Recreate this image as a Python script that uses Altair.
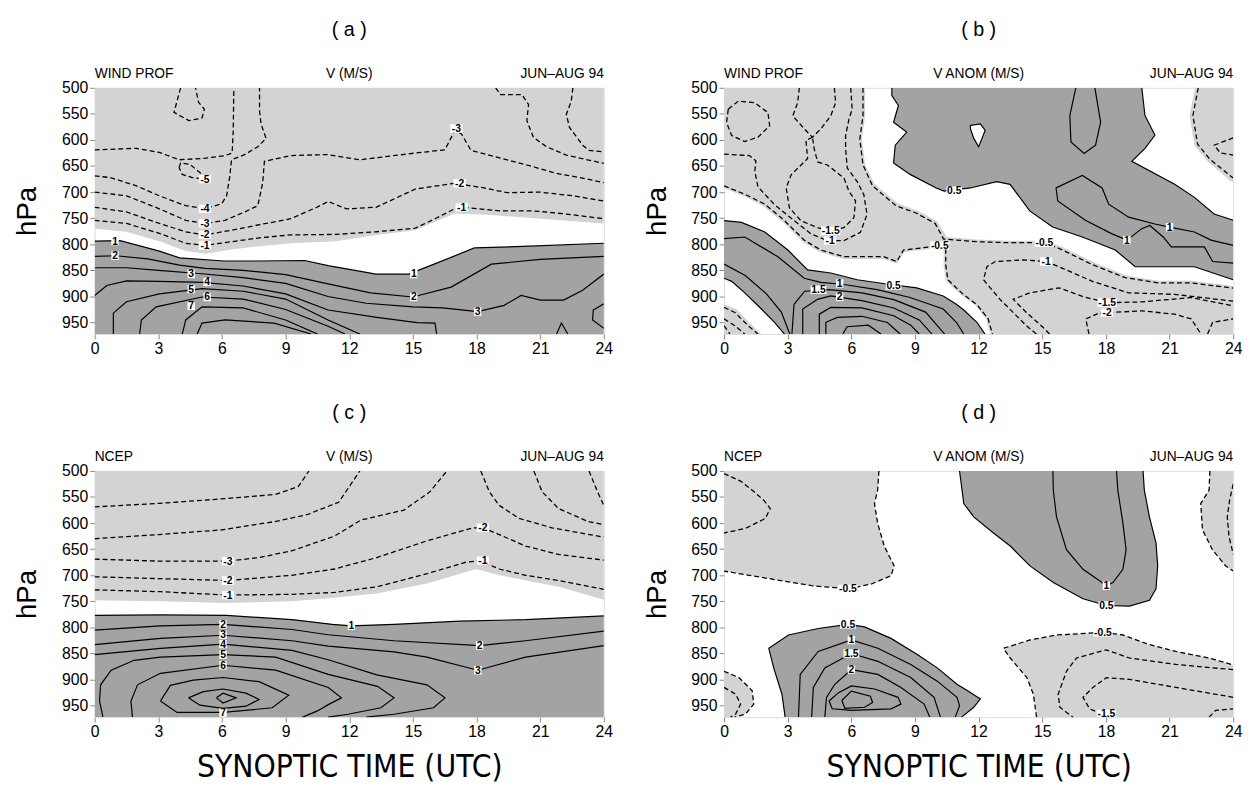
import altair as alt
import pandas as pd

P_TOP, P_BOT = 500, 972
W, H = 517, 250
LIGHT = "#d3d3d3"
DARK = "#a3a3a3"
FONT = "Liberation Sans"
NARROW = "Liberation Sans Narrow, DejaVu Sans Condensed, Liberation Sans"

TIME_TICKS = [0, 3, 6, 9, 12, 15, 18, 21, 24]
P_TICKS = [500, 550, 600, 650, 700, 750, 800, 850, 900, 950]

# ---------------- panel (a): wind profiler, V ----------------
A_HEAD = ["WIND PROF", "V (M/S)", "JUN\u2013AUG 94"]
# shaded bands: (time, top pressure, bottom pressure)
A_LIGHT_BANDS = [[(0, 500, 770), (1.5, 500, 776), (3.05, 500, 794), (4.29, 500, 813), (5.21, 500, 818),
                  (6.45, 500, 810), (7.69, 500, 804), (9.24, 500, 798), (11.4, 500, 794), (13.26, 500, 782),
                  (15.12, 500, 773), (16.04, 500, 757), (16.97, 500, 741), (18.67, 500, 744), (24, 500, 760)]]
A_DARK_BANDS = [[(0, 794, 972), (1.2, 793, 972), (3.05, 813, 972), (4.0, 826, 972), (6.1, 832, 972),
                 (7.7, 832, 972), (9.9, 831, 972), (11.0, 841, 972), (13.26, 857, 972), (14.8, 857, 972),
                 (16.0, 838, 972), (17.9, 807, 972), (20.2, 804, 972), (24, 798, 972)]]
A_DASHED = [
    [(4.05, 500), (3.74, 547), (4.44, 563), (5.06, 558), (5.17, 541), (4.9, 528), (4.75, 500)],
    [(0, 619), (1.97, 616), (3.05, 624), (3.98, 638), (5.21, 635), (6.14, 630), (6.48, 625), (6.53, 582), (6.56, 500)],
    [(3.98, 653), (4.05, 644), (4.5, 647), (5.06, 666), (5.2, 675), (4.6, 672), (4.13, 666), (3.98, 653)],
    [(0, 669), (0.73, 672), (1.97, 688), (3.05, 707), (4.29, 726), (5.21, 732), (5.99, 722), (6.22, 707),
     (6.37, 669), (6.45, 638), (7.07, 628), (7.69, 613), (8.08, 597), (7.84, 569), (7.77, 544), (7.77, 500)],
    [(0, 700), (1.5, 707), (3.05, 732), (4.29, 754), (5.21, 760), (6.14, 754), (7.07, 738), (7.69, 726),
     (7.92, 682), (8.0, 641), (9.24, 630), (10.94, 628), (12.49, 638), (15.12, 625), (16.51, 619),
     (16.97, 582), (17.28, 588), (17.74, 620), (19.13, 635), (20.37, 648), (21.76, 664), (23.0, 673), (24, 682)],
    [(0, 729), (1.5, 738), (3.05, 760), (4.29, 776), (5.21, 782), (6.45, 773), (7.69, 763), (9.24, 751),
     (10.47, 729), (11.0, 718), (11.87, 732), (13.26, 729), (15.12, 694), (16.97, 683), (18.36, 692),
     (19.44, 701), (20.99, 700), (22.54, 707), (24, 717)],
    [(0, 754), (1.5, 760), (3.05, 779), (4.29, 798), (5.21, 802), (6.45, 795), (7.69, 788), (9.24, 782),
     (11.4, 781), (13.26, 776), (15.12, 769), (16.04, 751), (16.97, 732), (17.28, 729), (19.13, 736),
     (20.68, 736), (22.23, 742), (24, 751)],
    [(18.9, 500), (19.13, 513), (20.14, 513), (20.45, 532), (20.37, 563), (20.68, 595), (21.3, 613),
     (22.23, 629), (24, 645)],
    [(22.54, 500), (22.46, 526), (22.23, 551), (22.38, 576), (23.0, 610), (23.3, 620), (24, 623)],
]
A_SOLID = [
    [(0, 794), (1.2, 793), (3.05, 813), (4.0, 826), (6.1, 832), (7.7, 832), (9.9, 831), (11.0, 841),
     (13.26, 857), (14.8, 857), (16.0, 838), (17.9, 807), (20.2, 804), (24, 798)],
    [(0, 823), (1, 822), (2.5, 828), (4, 840), (5.2, 846), (7, 850), (9, 858), (11, 876), (13, 893),
     (15, 901), (16.8, 882), (18.7, 838), (21, 829), (24, 823)],
    [(0, 845), (1.5, 845), (3, 850), (5.2, 857), (7, 864), (9, 875), (11, 900), (12.8, 913), (15, 920),
     (16.4, 922), (18.05, 929), (19.3, 917), (20.1, 898), (21.0, 907), (22.1, 907), (23.0, 888), (24, 857)],
    [(0, 898), (0.57, 879), (1.5, 870), (3.05, 871), (5.06, 873), (7, 880), (9, 895), (11, 926),
     (13.3, 940), (15.2, 950), (16.04, 951), (16.12, 972)],
    [(24, 914), (23.5, 926), (23.47, 945), (24, 961)],
    [(21.77, 972), (22.0, 951), (22.3, 972)],
    [(0.88, 972), (0.88, 932), (1.5, 910), (3.05, 895), (5.06, 885), (7, 890), (9, 905), (11, 945), (12.5, 972)],
    [(2.12, 972), (2.2, 945), (2.9, 920), (5.06, 901), (7, 905), (9, 925), (11, 957), (11.8, 972)],
    [(4.13, 972), (4.29, 945), (5.06, 920), (7, 922), (9, 945), (10.5, 972)],
    [(4.83, 972), (5.06, 951), (6.14, 945), (8.46, 951), (10.2, 972)],
]
A_LABELS = [(0.96, 794, "1"), (0.96, 822, "2"), (4.55, 857, "3"), (5.3, 872, "4"), (4.55, 886, "5"),
            (5.3, 901, "6"), (4.55, 918, "7"), (15.04, 857, "1"), (15.04, 901, "2"), (18.05, 929, "3"),
            (5.2, 675, "-5"), (5.2, 732, "-4"), (5.2, 760, "-3"), (5.2, 782, "-2"), (5.2, 802, "-1"),
            (17.05, 578, "-3"), (17.2, 683, "-2"), (17.3, 729, "-1")]

# ---------------- panel (b): wind profiler, V anomaly ----------------
B_HEAD = ["WIND PROF", "V ANOM (M/S)", "JUN\u2013AUG 94"]
B_LIGHT = [
    [(0, 500), (6.65, 500), (6.65, 554), (6.5, 598), (6.65, 648), (7.1, 685), (8.2, 722), (9.15, 736),
     (10.05, 756), (10.5, 786), (11.92, 791), (13.48, 793), (15.1, 793), (15.9, 804), (17.45, 835),
     (18.95, 860), (20.46, 870), (22.02, 870), (24, 880), (24, 972), (12.55, 972), (12.35, 943), (11.85, 917),
     (11.15, 896), (10.45, 870), (10.35, 840), (10.35, 810), (10.17, 806), (9.7, 809), (8.5, 815), (8.14, 837),
     (7.52, 828), (5.65, 828), (4.5, 815), (3.7, 795), (2.8, 758), (1.85, 727), (0.95, 708), (0, 692)],
    [(22.2, 500), (21.94, 553), (22.17, 610), (22.79, 641), (23.88, 679), (24, 680), (24, 500)],
    [(0, 915), (0.6, 925), (1.2, 950), (1.75, 972), (0, 972)],
]
B_DARK = [
    [(7.91, 500), (7.91, 515), (8.22, 534), (7.99, 566), (8.61, 585), (8.07, 610), (7.99, 644), (8.77, 666),
     (10.0, 692), (10.37, 698), (11.61, 692), (12.85, 680), (13.48, 685), (14.41, 736), (15.49, 767),
     (16.89, 786), (18.44, 811), (19.38, 843), (20.93, 843), (22.17, 843), (24, 868), (24, 754), (23.1, 742),
     (22.17, 710), (21.24, 685), (19.22, 641), (19.84, 616), (20.31, 591), (19.84, 553), (19.69, 500)],
    [(0, 754.5), (0.82, 758), (1.92, 776.5), (3.01, 811), (3.94, 849), (5.03, 855), (6.28, 868), (7.83, 877),
     (9.08, 883.5), (10.33, 899), (10.95, 915), (11.3, 926), (11.92, 949.5), (12.3, 972), (2.85, 972),
     (2.38, 949.5), (1.76, 924), (0.98, 893), (0.36, 871), (0, 865)],
]
B_HOLES = [[(11.61, 572), (12.08, 569), (12.31, 581.5), (12.16, 597), (12.0, 613), (11.77, 597), (11.61, 578),
            (11.61, 572)]]
B_DASHED = [
    [(0.2, 541), (0.67, 525.5), (1.45, 528.6), (2.07, 547.5), (2.15, 572.7), (1.6, 594.7), (0.98, 603),
     (0.36, 591.5), (0.12, 566.4), (0.2, 541)],
    [(3.55, 500), (3.47, 528.6), (3.24, 553.8), (3.79, 579), (4.17, 594.7)],
    [(5.2, 500), (5.26, 528.6), (5.03, 553.8), (4.56, 579), (4.17, 594.7)],
    [(4.17, 594.7), (3.86, 601), (3.94, 635.6), (3.16, 667), (2.93, 692), (3.08, 730), (3.63, 755), (4.41, 768),
     (5.03, 774), (5.65, 768), (6.12, 749), (6.2, 717), (5.89, 698.5), (5.65, 673), (4.87, 648), (4.41, 642),
     (4.25, 617), (4.17, 594.7)],
    [(5.97, 500), (6.04, 541), (5.89, 560), (5.73, 591.5), (5.73, 617), (5.81, 654), (6.28, 680), (6.59, 705),
     (6.74, 742.5), (6.43, 777), (5.65, 793), (4.87, 793), (4.1, 780), (3.32, 755), (2.38, 724), (1.6, 690),
     (1.45, 660), (1.5, 640), (1.2, 630), (0, 627)],
    [(6.55, 500), (6.55, 554), (6.4, 598), (6.55, 648), (7.0, 688), (8.1, 726), (9.05, 740), (9.95, 760),
     (10.35, 790), (11.92, 795), (13.48, 797), (15.1, 797), (15.8, 808), (17.36, 839), (18.91, 864),
     (20.46, 874), (22.02, 874), (24, 884)],
    [(0, 688), (0.98, 704), (1.92, 723), (2.85, 754.5), (3.78, 792), (4.56, 811), (5.65, 823.7), (7.52, 823.7),
     (8.14, 833), (8.46, 811), (9.7, 805), (10.17, 802), (10.45, 808), (10.45, 840), (10.55, 868), (11.25, 895),
     (11.95, 917), (12.45, 943), (12.65, 972)],
    [(14.72, 972), (14.25, 956), (13.01, 905.5), (12.23, 868), (12.39, 843), (12.78, 833), (14.1, 830),
     (15.18, 833), (15.96, 846), (17.36, 871), (19.07, 893), (21.24, 896), (24, 909)],
    [(15.34, 972), (15.03, 959), (14.25, 930.6), (13.63, 905.5), (14.41, 893), (15.8, 883.5), (16.89, 900),
     (18.06, 912), (19.69, 910.5), (22.02, 902), (24, 918)],
    [(17.2, 972), (17.05, 943), (17.67, 932), (19.69, 927.5), (21.24, 934), (22.02, 943), (22.48, 972)],
    [(22.79, 972), (23.03, 949.5), (24, 943)],
    [(22.35, 500), (22.1, 553), (22.32, 608), (22.9, 637), (24, 673)],
    [(24, 596), (23.1, 610), (23.4, 625), (24, 629)],
    [(0, 921), (0.51, 930.6), (1.14, 956), (1.6, 972)],
    [(0, 943), (0.51, 956), (0.98, 972)],
    [(0, 956), (0.28, 972)],
]
B_SOLID = [
    [(7.91, 500), (7.91, 515), (8.22, 534), (7.99, 566), (8.61, 585), (8.07, 610), (7.99, 644), (8.77, 666),
     (10.0, 692), (10.37, 698), (11.61, 692), (12.85, 680), (13.48, 685), (14.41, 736), (15.49, 767),
     (16.89, 786), (18.44, 811), (19.38, 843), (20.93, 843), (22.17, 843), (24, 868)],
    [(24, 754), (23.1, 742), (22.17, 710), (21.24, 685), (19.22, 641), (19.84, 616), (20.31, 591),
     (19.84, 553), (19.69, 500)],
    [(11.61, 572), (12.08, 569), (12.31, 581.5), (12.16, 597), (12.0, 613), (11.77, 597), (11.61, 578), (11.61, 572)],
    [(16.58, 500), (16.3, 553), (16.35, 604), (16.97, 626), (17.51, 610), (17.75, 566), (17.48, 500)],
    [(24, 802), (22.95, 792), (22.17, 776.5), (21.0, 767), (20.31, 761), (19.07, 748), (18.13, 723),
     (17.82, 692), (16.89, 668), (15.65, 692), (15.73, 717), (17.05, 754.5), (18.29, 780), (18.99, 792),
     (19.69, 770), (20.07, 764), (20.7, 786), (21.08, 805), (22.64, 805), (23.03, 833), (24, 836)],
    [(0, 754.5), (0.82, 758), (1.92, 776.5), (3.01, 811), (3.94, 849), (5.03, 855), (6.28, 868), (7.83, 877),
     (9.08, 883.5), (10.33, 899), (10.95, 915), (11.3, 926), (11.92, 949.5), (12.3, 972)],
    [(0, 865), (0.36, 871), (0.98, 893), (1.76, 924), (2.38, 949.5), (2.85, 972)],
    [(0, 789), (0.98, 786), (2.54, 824), (3.78, 865), (4.56, 873), (5.65, 877), (7.21, 887), (8.77, 902),
     (10.33, 924), (10.95, 949.5), (11.3, 972)],
    [(0, 838), (1.0, 860), (2.0, 895), (2.7, 930), (3.1, 972)],
    [(3.2, 972), (3.3, 915), (3.8, 890), (4.95, 887), (6.5, 893), (8.0, 906), (9.5, 930), (10.4, 972)],
    [(3.71, 972), (3.71, 924), (4.41, 905.5), (5.03, 899), (6.5, 908), (8.0, 922), (9.2, 945), (9.8, 972)],
    [(4.49, 972), (4.49, 934), (5.03, 921), (6.5, 922), (8.0, 937), (8.8, 955), (9.2, 972)],
    [(4.8, 972), (4.8, 949.5), (5.34, 940), (6.5, 938), (7.7, 950), (8.3, 972)],
    [(5.6, 972), (5.8, 958), (6.8, 955), (7.4, 972)],
]
B_LABELS = [(5.03, 774, "-1.5"), (5.0, 793, "-1"), (10.17, 802, "-0.5"), (15.1, 797, "-0.5"),
            (15.18, 833, "-1"), (18.06, 912, "-1.5"), (18.06, 931, "-2"), (10.85, 697, "0.5"),
            (21.0, 767, "1"), (18.99, 792, "1"), (5.45, 875, "1"), (4.45, 887, "1.5"), (5.45, 901, "2"),
            (7.99, 879, "0.5")]

# ---------------- panel (c): NCEP, V ----------------
C_HEAD = ["NCEP", "V (M/S)", "JUN\u2013AUG 94"]
C_LIGHT_BANDS = [[(0, 500, 748), (3.1, 500, 750), (6.2, 500, 753), (9.3, 500, 750), (11.01, 500, 744),
                  (13.3, 500, 735), (15.66, 500, 716), (17.99, 500, 688), (19.07, 500, 700), (21.86, 500, 722),
                  (24, 500, 747)]]
C_DARK_BANDS = [[(0, 777, 972), (3.1, 776, 972), (6.2, 777, 972), (9.3, 785, 972), (11.2, 794, 972),
                 (12.1, 797, 972), (14.11, 794, 972), (17.21, 788, 972), (20.31, 785, 972), (24, 778, 972)]]
C_DASHED = [
    [(0, 728), (3.1, 731.5), (6.28, 738), (9.3, 736.5), (11.3, 733), (13.3, 722), (15.66, 697), (17.5, 675),
     (18.14, 672), (19.07, 688), (20.31, 700), (21.86, 710), (24, 727)],
    [(0, 703), (3.1, 706.5), (6.28, 710), (9.3, 700), (11.3, 688), (13.3, 666), (15.66, 634), (17.83, 609),
     (18.3, 609), (19.07, 622), (20.31, 644), (21.86, 660), (24, 671)],
    [(0, 669), (3.1, 673), (6.28, 673), (7.75, 666), (9.3, 653), (11.3, 625), (12.56, 594), (14.58, 575),
     (15.8, 540), (16.6, 500)],
    [(18.2, 500), (18.6, 540), (19.07, 566), (20.0, 591), (21.55, 609), (24, 627)],
    [(0, 630), (3, 622), (6, 613), (8.5, 597), (10, 584), (11.5, 560), (12.5, 500)],
    [(20.7, 500), (21.09, 540), (21.86, 572), (23.26, 597), (24, 603)],
    [(0, 569), (3.1, 562), (6.2, 553), (8.53, 545), (9.6, 530), (10.1, 500)],
    [(23.3, 500), (23.7, 540), (24, 566)],
]
C_SOLID = [
    [(0, 777), (3.1, 776), (6.2, 777), (9.3, 785), (11.2, 794), (12.1, 797), (14.11, 794), (17.21, 788),
     (20.31, 785), (24, 778)],
    [(0, 805), (3.1, 797), (6.05, 794), (9.3, 804), (11.01, 814), (14.11, 825.5), (18.14, 835), (20.31, 825.5),
     (24, 807)],
    [(0, 833), (3.1, 821), (6.05, 815), (9.3, 825.5), (11.01, 836), (14.11, 847), (15.66, 857), (18.06, 882),
     (20.31, 857), (24, 835)],
    [(0, 852), (3.1, 840), (6.05, 832), (9.3, 844), (11.01, 862), (13.3, 891), (15.66, 910), (16.51, 935),
     (15.97, 954), (14.11, 966.5), (12.8, 972)],
    [(0.39, 972), (0.23, 941), (0.28, 910), (0.78, 882), (1.86, 863), (3.1, 857), (6.05, 852), (8.53, 857),
     (11.01, 890), (13.33, 913), (14.11, 935), (13.49, 954), (11.94, 966.5), (11.0, 972)],
    [(1.78, 972), (1.71, 941), (2.02, 910), (3.1, 888), (6.05, 872.5), (8.53, 882), (11.01, 915), (11.63, 935),
     (11.01, 948), (10.5, 960), (9.8, 972)],
    [(3.1, 941), (3.57, 911), (4.65, 901), (6.05, 896), (7.75, 904), (9.15, 930), (8.37, 954), (6.05, 963),
     (3.88, 963), (3.1, 941)],
    [(4.42, 935), (5.12, 923), (6.05, 918), (7.13, 926), (7.75, 938), (7.13, 951), (6.05, 955), (4.96, 949),
     (4.42, 935)],
    [(5.74, 935), (6.05, 926), (6.67, 935), (6.05, 945), (5.74, 935)],
]
C_LABELS = [(6.28, 673, "-3"), (6.28, 710, "-2"), (6.28, 738, "-1"), (18.3, 609, "-2"), (18.3, 672, "-1"),
            (6.05, 794, "2"), (6.05, 814, "3"), (6.05, 832, "4"), (6.05, 852, "5"), (6.05, 872.5, "6"),
            (6.05, 963, "7"), (12.1, 797, "1"), (18.14, 835, "2"), (18.06, 882, "3")]

# ---------------- panel (d): NCEP, V anomaly ----------------
D_HEAD = ["NCEP", "V ANOM (M/S)", "JUN\u2013AUG 94"]
D_LIGHT = [
    [(0, 500), (7.3, 500), (7.24, 537), (7.09, 562.5), (7.24, 600), (7.55, 644), (8.02, 682), (7.87, 701),
     (6.93, 717), (5.84, 726), (4.13, 720), (1.76, 704), (0, 692)],
    [(22.9, 500), (22.86, 537), (22.47, 562.5), (22.55, 613), (23.02, 651), (23.64, 682), (24, 692), (24, 500)],
    [(13.17, 840), (14.42, 824), (15.67, 814.5), (17.86, 809.5), (18.8, 814.5), (20.05, 833), (21.3, 846),
     (22.86, 858.6), (24, 872), (24, 972), (14.73, 972), (14.58, 928), (14.27, 896), (13.49, 858.6)],
    [(0, 884), (0.7, 896), (1.33, 921.6), (1.4, 947), (1.02, 966), (0.5, 972), (0, 972)],
]
D_DARK = [
    [(11.1, 500), (11.22, 537), (11.3, 562.5), (11.77, 588), (12.7, 619), (13.49, 644), (14.42, 682),
     (15.52, 714), (16.92, 745), (18.02, 758), (19.11, 759), (20.05, 748), (20.36, 726), (20.44, 682),
     (20.36, 638), (20.05, 588), (19.81, 537), (19.75, 500)],
    [(2.88, 972), (2.73, 928), (2.34, 877.5), (2.11, 840), (3.04, 814.5), (4.44, 802), (5.84, 794), (6.62, 799),
     (7.87, 821), (9.11, 852), (10.05, 877.5), (10.98, 909), (11.5, 922), (12.08, 937), (11.77, 953), (11.2, 972)],
]
D_DASHED = [
    [(7.3, 500), (7.24, 537), (7.09, 562.5), (7.24, 600), (7.55, 644), (8.02, 682), (7.87, 701), (6.93, 717),
     (5.84, 726), (4.13, 720), (1.76, 704), (0, 692)],
    [(0, 505), (0.8, 520), (1.33, 537), (1.87, 556), (2.18, 572), (1.95, 591), (1.02, 610), (0, 619)],
    [(22.9, 500), (22.86, 537), (22.47, 562.5), (22.55, 613), (23.02, 651), (23.64, 682), (24, 692)],
    [(24, 525), (23.83, 556), (23.72, 588), (23.8, 625.5), (24, 660)],
    [(14.73, 972), (14.58, 928), (14.27, 896), (13.49, 858.6), (13.17, 840), (14.42, 824), (15.67, 814.5),
     (17.86, 809.5), (18.8, 814.5), (20.05, 833), (21.3, 846), (22.86, 858.6), (24, 872)],
    [(24, 881), (21.3, 871), (19.11, 858.6), (18.02, 843), (16.61, 858.6), (16.14, 884), (15.75, 928),
     (15.83, 953), (16.45, 972)],
    [(24, 934), (21.3, 915), (19.11, 899.6), (18.02, 896.4), (17.39, 915), (16.92, 934), (17.23, 956), (18.17, 972)],
    [(22.86, 972), (23.17, 959), (24, 956)],
    [(0, 884), (0.7, 896), (1.33, 921.6), (1.4, 947), (1.02, 966), (0.5, 972)],
    [(0, 915), (0.55, 928), (0.78, 947), (0.55, 966), (0.3, 972)],
]
D_SOLID = [
    [(11.1, 500), (11.22, 537), (11.3, 562.5), (11.77, 588), (12.7, 619), (13.49, 644), (14.42, 682),
     (15.52, 714), (16.92, 745), (18.02, 758), (19.11, 759), (20.05, 748), (20.36, 726), (20.44, 682),
     (20.36, 638), (20.05, 588), (19.81, 537), (19.75, 500)],
    [(15.5, 500), (15.52, 537), (15.67, 588), (16.14, 651), (16.92, 688.5), (17.7, 710.6), (18.02, 720),
     (18.33, 714), (18.8, 688.5), (18.95, 651), (18.8, 600), (18.56, 537), (18.5, 500)],
    [(2.88, 972), (2.73, 928), (2.34, 877.5), (2.11, 840), (3.04, 814.5), (4.44, 802), (5.84, 794), (6.62, 799),
     (7.87, 821), (9.11, 852), (10.05, 877.5), (10.98, 909), (11.5, 922), (12.08, 937), (11.77, 953), (11.2, 972)],
    [(3.51, 972), (3.59, 890), (4.44, 846), (6.0, 824), (7.25, 840), (8.8, 871), (10.05, 903), (10.98, 934),
     (11.1, 950), (10.9, 972)],
    [(4.13, 972), (4.21, 915), (4.75, 877.5), (6.0, 850), (7.25, 865), (8.8, 896), (9.9, 934), (10.2, 972)],
    [(4.75, 972), (4.83, 934), (5.22, 909), (6.0, 881), (7.25, 890), (8.34, 915), (9.43, 947), (9.7, 972)],
    [(4.95, 941), (5.4, 925), (6.0, 912), (7.1, 918), (8.2, 934), (8.34, 947), (7.87, 956), (6.0, 959),
     (5.1, 956), (4.95, 941)],
    [(5.55, 940), (6.0, 922), (6.9, 932), (7.0, 944), (6.62, 953), (5.7, 955), (5.55, 940)],
]
D_LABELS = [(5.84, 726, "-0.5"), (17.86, 809.5, "-0.5"), (18.02, 966, "-1.5"), (18.02, 758, "0.5"),
            (18.02, 720, "1"), (5.84, 794, "0.5"), (6.0, 824, "1"), (6.0, 850, "1.5"), (6.0, 881, "2")]


def shape_df(polys):
    rows = []
    for i, poly in enumerate(polys):
        for j, (t, p) in enumerate(poly):
            rows.append({"g": i, "o": j, "t": t, "p": p})
    return pd.DataFrame(rows)


def band_df(bands):
    rows = []
    for i, band in enumerate(bands):
        for t, p1, p2 in band:
            rows.append({"g": i, "t": t, "p": p1, "p2": p2})
    return pd.DataFrame(rows)


def label_df(labels):
    return pd.DataFrame([{"t": t, "p": p, "txt": s, "n": len(s)} for t, p, s in labels])


# white boxes behind contour labels: unit shapes (scaled by sqrt(size)/2 = 5 px per unit)
BOXES = {1: "M-0.75,-0.85L0.75,-0.85L0.75,0.85L-0.75,0.85Z",
         2: "M-1.25,-0.85L1.25,-0.85L1.25,0.85L-1.25,0.85Z",
         3: "M-1.6,-0.85L1.6,-0.85L1.6,0.85L-1.6,0.85Z",
         4: "M-1.95,-0.85L1.95,-0.85L1.95,0.85L-1.95,0.85Z"}


def panel(tag, head, fills, holes, dashed, solid, labels, bottom):
    xs = alt.Scale(domain=[0, 24], nice=False, zero=False)
    ys = alt.Scale(domain=[P_TOP, P_BOT], reverse=True, nice=False, zero=False)
    if bottom:
        xaxis = alt.Axis(values=TIME_TICKS, title="SYNOPTIC TIME (UTC)", titleFont=NARROW, titleFontSize=32,
                         titleFontWeight="normal", titlePadding=12, labelFlush=False, grid=False,
                         labelFontSize=16, labelFont=FONT, domain=False)
    else:
        xaxis = alt.Axis(values=TIME_TICKS, title=None, labelFlush=False, grid=False,
                         labelFontSize=16, labelFont=FONT, domain=False)
    yaxis = alt.Axis(values=P_TICKS, title="hPa", titleFontSize=28, titleFontWeight="normal",
                     titlePadding=20, grid=False, labelFontSize=16, labelFont=FONT, domain=False)
    X = alt.X("t:Q", scale=xs, axis=xaxis)
    Y = alt.Y("p:Q", scale=ys, axis=yaxis)

    layers = []
    for kind, data, color in fills:
        if kind == "band":
            layers.append(alt.Chart(band_df(data)).mark_area(
                color=color, opacity=1, clip=True, interpolate="linear").encode(
                x=X, y=Y, y2="p2:Q", detail="g:N"))
        else:
            layers.append(alt.Chart(shape_df(data)).mark_line(
                fill=color, fillOpacity=1, opacity=1, strokeOpacity=0, strokeWidth=0,
                clip=True, interpolate="linear").encode(x=X, y=Y, detail="g:N", order="o:Q"))
    if holes:
        layers.append(alt.Chart(shape_df(holes)).mark_line(
            fill="white", fillOpacity=1, opacity=1, strokeOpacity=0, strokeWidth=0,
            clip=True).encode(x=X, y=Y, detail="g:N", order="o:Q"))
    layers.append(alt.Chart(shape_df(dashed)).mark_line(stroke="black", strokeWidth=1.3, strokeDash=[5, 3],
                                                        clip=True).encode(
        x=X, y=Y, detail="g:N", order="o:Q"))
    layers.append(alt.Chart(shape_df(solid)).mark_line(stroke="black", strokeWidth=1.2, clip=True).encode(
        x=X, y=Y, detail="g:N", order="o:Q"))
    ldf = label_df(labels)
    for n, path in BOXES.items():
        sub = ldf[ldf["n"] == n]
        if len(sub):
            layers.append(alt.Chart(sub).mark_point(shape=path, filled=True, fill="white", fillOpacity=1,
                                                    opacity=1, strokeOpacity=0, size=100, clip=True).encode(x=X, y=Y))
    layers.append(alt.Chart(ldf).mark_text(fontSize=10.5, fontWeight="bold", font=FONT, color="black",
                                           baseline="middle", dy=0.5).encode(x=X, y=Y, text="txt:N"))
    for txt, xpos, al in zip(head, [0, W / 2, W], ["left", "center", "right"]):
        layers.append(alt.Chart(pd.DataFrame({"txt": [txt]})).mark_text(
            align=al, baseline="bottom", fontSize=14, font=FONT, color="black").encode(
            x=alt.value(xpos), y=alt.value(-7), text="txt:N"))

    return alt.layer(*layers).properties(
        width=W, height=H,
        title=alt.TitleParams(text=tag, fontSize=20, font=FONT, fontWeight="normal", offset=28,
                              anchor="middle", color="black"))


pa = panel("( a )", A_HEAD, [("band", A_LIGHT_BANDS, LIGHT), ("band", A_DARK_BANDS, DARK)],
           [], A_DASHED, A_SOLID, A_LABELS, False)
pb = panel("( b )", B_HEAD, [("poly", B_LIGHT, LIGHT), ("poly", B_DARK, DARK)],
           B_HOLES, B_DASHED, B_SOLID, B_LABELS, False)
pc = panel("( c )", C_HEAD, [("band", C_LIGHT_BANDS, LIGHT), ("band", C_DARK_BANDS, DARK)],
           [], C_DASHED, C_SOLID, C_LABELS, True)
pd_ = panel("( d )", D_HEAD, [("poly", D_LIGHT, LIGHT), ("poly", D_DARK, DARK)],
            [], D_DASHED, D_SOLID, D_LABELS, True)

row1 = alt.hconcat(pa, pb, spacing=29)
row2 = alt.hconcat(pc, pd_, spacing=29)
chart = alt.vconcat(row1, row2, spacing=45).configure_view(
    stroke="black", strokeWidth=2.2).configure_axis(
    tickColor="black", tickWidth=1.5, tickSize=7, labelPadding=3,
    labelColor="black", titleColor="black", titleFont=FONT
).configure(background="white")

chart.save("out.html", embed_options={"renderer": "svg", "actions": False})
